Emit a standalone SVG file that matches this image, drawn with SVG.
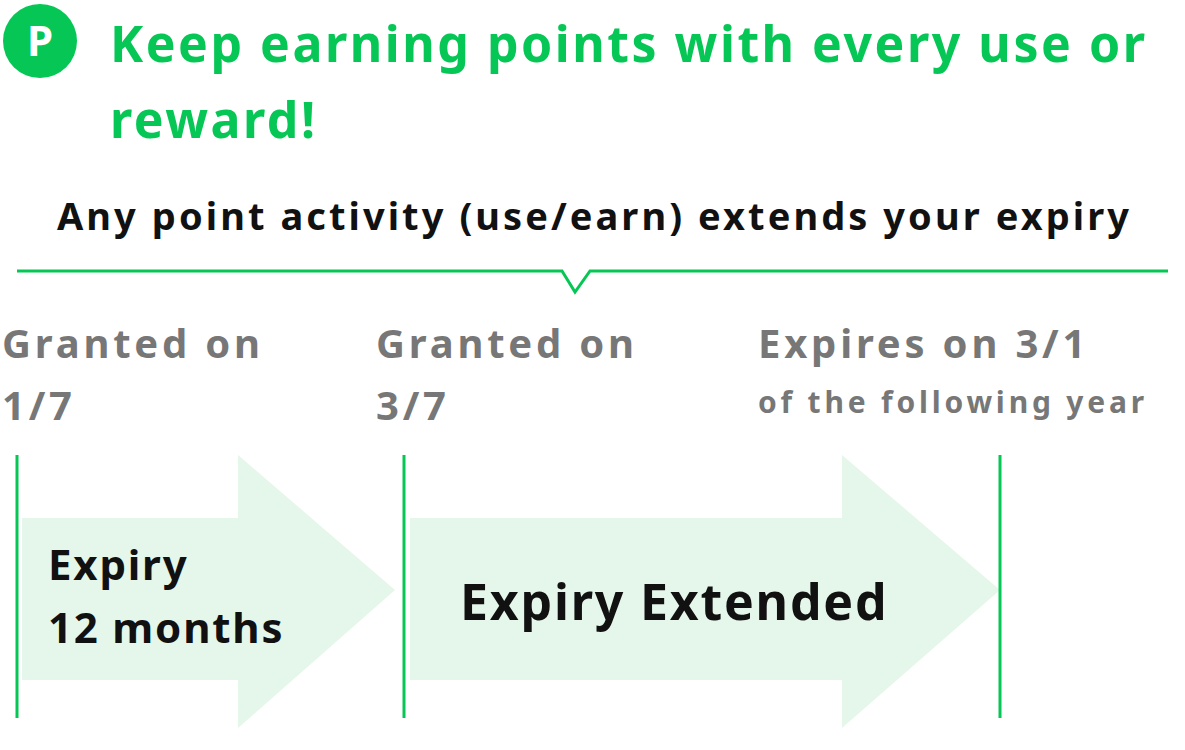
<svg xmlns="http://www.w3.org/2000/svg" width="1185" height="750" viewBox="0 0 1185 750">
<style>
text{font-family:"Noto Sans","Liberation Sans",sans-serif;font-weight:bold}
.g{fill:#06c755}.k{fill:#111;letter-spacing:1.8px}.m{fill:#777;letter-spacing:3.8px}
.ar{fill:#e5f7ea}.vl{stroke:#06c755;stroke-width:3}
</style>
<rect width="1185" height="750" fill="#fff"/>
<g id="header">
<circle cx="40" cy="41" r="37" class="g"/>
<text x="40" y="56" font-size="42" fill="#fff" text-anchor="middle">P</text>
<text x="110" y="62" font-size="50" class="g" textLength="1035">Keep earning points with every use or</text>
<text x="110" y="138" font-size="50" class="g" letter-spacing="2.5">reward!</text>
<text x="593" y="230" font-size="38" fill="#111" text-anchor="middle" textLength="1072">Any point activity (use/earn) extends your expiry</text>
<path d="M17 271H562L575 292L590 271H1168" fill="none" class="vl"/>
</g>
<g id="labels">
<text x="2" y="358" font-size="40" class="m">Granted on</text>
<text x="2" y="420" font-size="40" class="m">1/7</text>
<text x="376" y="358" font-size="40" class="m">Granted on</text>
<text x="376" y="420" font-size="40" class="m">3/7</text>
<text x="758" y="358" font-size="40" class="m">Expires on 3/1</text>
<text x="758" y="413" font-size="30" class="m" letter-spacing="3.2">of the following year</text>
</g>
<g id="arrow1">
<path class="ar" d="M22 518H238V455L395 590L238 728V680H22Z"/>
<text x="48" y="580" font-size="42" class="k">Expiry</text>
<text x="48" y="643" font-size="42" class="k" letter-spacing="2.5">12 months</text>
</g>
<g id="arrow2">
<path class="ar" d="M410 518H842V455L1000 590L842 728V680H410Z"/>
<text x="460" y="620" font-size="50" class="k">Expiry Extended</text>
</g>
<g id="connectors">
<line x1="17" y1="455" x2="17" y2="718" class="vl"/>
<line x1="404" y1="455" x2="404" y2="718" class="vl"/>
<line x1="1000" y1="455" x2="1000" y2="718" class="vl"/>
</g>
</svg>
